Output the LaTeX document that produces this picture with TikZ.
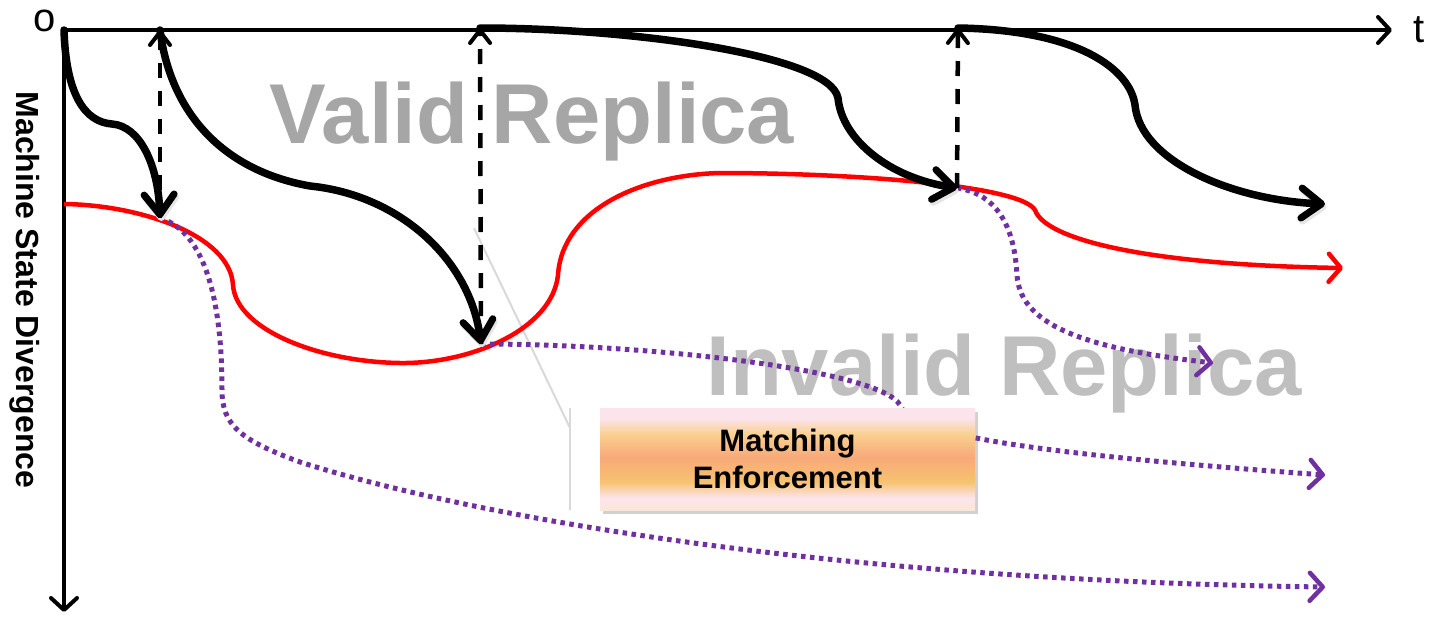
\documentclass[tikz,border=0pt]{standalone}
\usepackage{fontspec}
\setmainfont{Liberation Sans}
\usetikzlibrary{arrows.meta,shadows}
\definecolor{replicapurple}{HTML}{7030A0}
\definecolor{validgray}{HTML}{A6A6A6}
\definecolor{invalidgray}{HTML}{BFBFBF}
\definecolor{calloutgray}{HTML}{D9D9D9}
\definecolor{shPink}{HTML}{FCE4EC}
\definecolor{shPeach}{HTML}{FBE7D6}
\definecolor{shYellow}{HTML}{F9D08E}
\definecolor{shSalmon}{HTML}{F8A97A}
\definecolor{shAmber}{HTML}{F7C26E}
% vertical fill of the enforcement box; the box spans 25bp (bottom) to 75bp (top)
\pgfdeclareverticalshading{enforceshade}{100bp}{%
  color(0bp)=(shPeach); color(25bp)=(shPeach); color(31bp)=(shPink);
  color(39bp)=(shAmber); color(51bp)=(shSalmon); color(62bp)=(shYellow);
  color(70bp)=(shPink); color(75bp)=(shPink); color(100bp)=(shPink)}
\begin{document}
\begin{tikzpicture}[x=1pt,y=-1pt,
  softshadow/.style={preaction={draw=black!10,transform canvas={shift={(1.5pt,-3pt)}}}},
  axisline/.style={line width=4pt,-{Straight Barb[length=12pt,width=26pt,line width=4pt,round]}},
  replay/.style={softshadow,line width=7.5pt,line cap=round,-{Straight Barb[length=20pt,width=30pt,line width=7pt,round]}},
  resync/.style={line width=4.5pt,dash pattern=on 15pt off 13pt,-{Straight Barb[length=13pt,width=20pt,line width=4pt,round]}},
  reference/.style={softshadow,red,line width=4.5pt,-{Straight Barb[length=12pt,width=28pt,line width=4.5pt,round]}},
  diverged/.style={replicapurple,line width=5pt,dash pattern=on 4.5pt off 4.5pt,-{Straight Barb[length=13pt,width=28pt,line width=4.5pt,round]}},
  callout/.style={calloutgray,line width=2pt},
  regionlabel/.style={font=\bfseries\fontsize{85}{85}\selectfont,anchor=base,inner sep=0pt},
  axislabel/.style={font=\fontsize{40}{40}\selectfont,inner sep=0pt},
  enforcebox/.style={shading=enforceshade,minimum width=375pt,minimum height=102pt,inner sep=0pt,
    align=center,font=\bfseries\fontsize{31}{37}\selectfont,
    drop shadow={shadow xshift=3pt,shadow yshift=-4pt,opacity=0.3,fill=black!60}}
]
\useasboundingbox (0,0) rectangle (1431,624);

% background labels of the two regions
\node[regionlabel,text=validgray] (valid) at (532,143) {Valid Replica};
\node[regionlabel,text=invalidgray] (invalid) at (1004,395) {Invalid Replica};

% callout leader of the enforcement box
\coordinate (cTop) at (474,228);
\coordinate (cKnee) at (570,428);
\coordinate (cBarTop) at (570,408);
\coordinate (cBarBot) at (570,510);
\draw[callout] (cTop) -- (cKnee);
\draw[callout] (cBarTop) -- (cBarBot);

% axes
\coordinate (O) at (64,30);
\coordinate (tEnd) at (1392,30);
\coordinate (dEnd) at (64,612);
\draw[axisline] (O) -- (tEnd);
\draw[axisline] (O) -- (dEnd);
\node[axislabel,anchor=base] (olab) at (45,31) {o};
\node[axislabel,anchor=base] (tlab) at (1419,42) {t};
\node[font=\bfseries\fontsize{32}{32}\selectfont,rotate=-90,inner sep=0pt] (ylab) at (25,290) {Machine State Divergence};

% resynchronisation points
\coordinate (T1) at (160,30);
\coordinate (T2) at (480,28);
\coordinate (T3) at (958,28);
\coordinate (M1) at (160,218);
\coordinate (M2) at (481,344);
\coordinate (M3) at (957,188);

% reference execution
\draw[reference] (64,204) .. controls (140,205) and (230,235) .. (233,285)
  .. controls (236,330) and (320,362) .. (400,363)
  .. controls (470,364) and (552,330) .. (558,275)
  .. controls (562,210) and (640,175) .. (720,173)
  .. controls (850,173) and (1020,185) .. (1035,210)
  .. controls (1045,240) and (1150,265) .. (1343,268);

% diverged (invalid) continuations
\draw[diverged] (M1) .. controls (205,232) and (222,300) .. (222,390)
  .. controls (222,425) and (240,440) .. (300,462)
  .. controls (450,510) and (800,580) .. (1325,587);
\draw[diverged] (M2) .. controls (650,344) and (880,370) .. (900,405)
  .. controls (910,430) and (980,450) .. (1325,475);
\draw[diverged] (M3) .. controls (1005,195) and (1015,240) .. (1017,275)
  .. controls (1020,330) and (1100,350) .. (1213,363);

% replica executions
\draw[replay] (O) .. controls (66,95) and (85,122) .. (112,124)
  .. controls (140,126) and (158,165) .. (M1);
\draw[replay] (T1) .. controls (170,110) and (220,170) .. (310,186)
  .. controls (400,195) and (470,260) .. (M2);
\draw[replay] (T2) .. controls (630,28) and (830,55) .. (838,98)
  .. controls (842,140) and (890,178) .. (M3);
\draw[replay] (T3) .. controls (1080,30) and (1130,70) .. (1135,105)
  .. controls (1140,160) and (1230,200) .. (1325,204);

% matching enforcement: jump back to the time axis
\draw[resync] (M1) -- (T1);
\draw[resync] (M2) -- (T2);
\draw[resync] (M3) -- (T3);

\node[enforcebox] (enforce) at (787.5,459) {Matching\\Enforcement};
\end{tikzpicture}
\end{document}
